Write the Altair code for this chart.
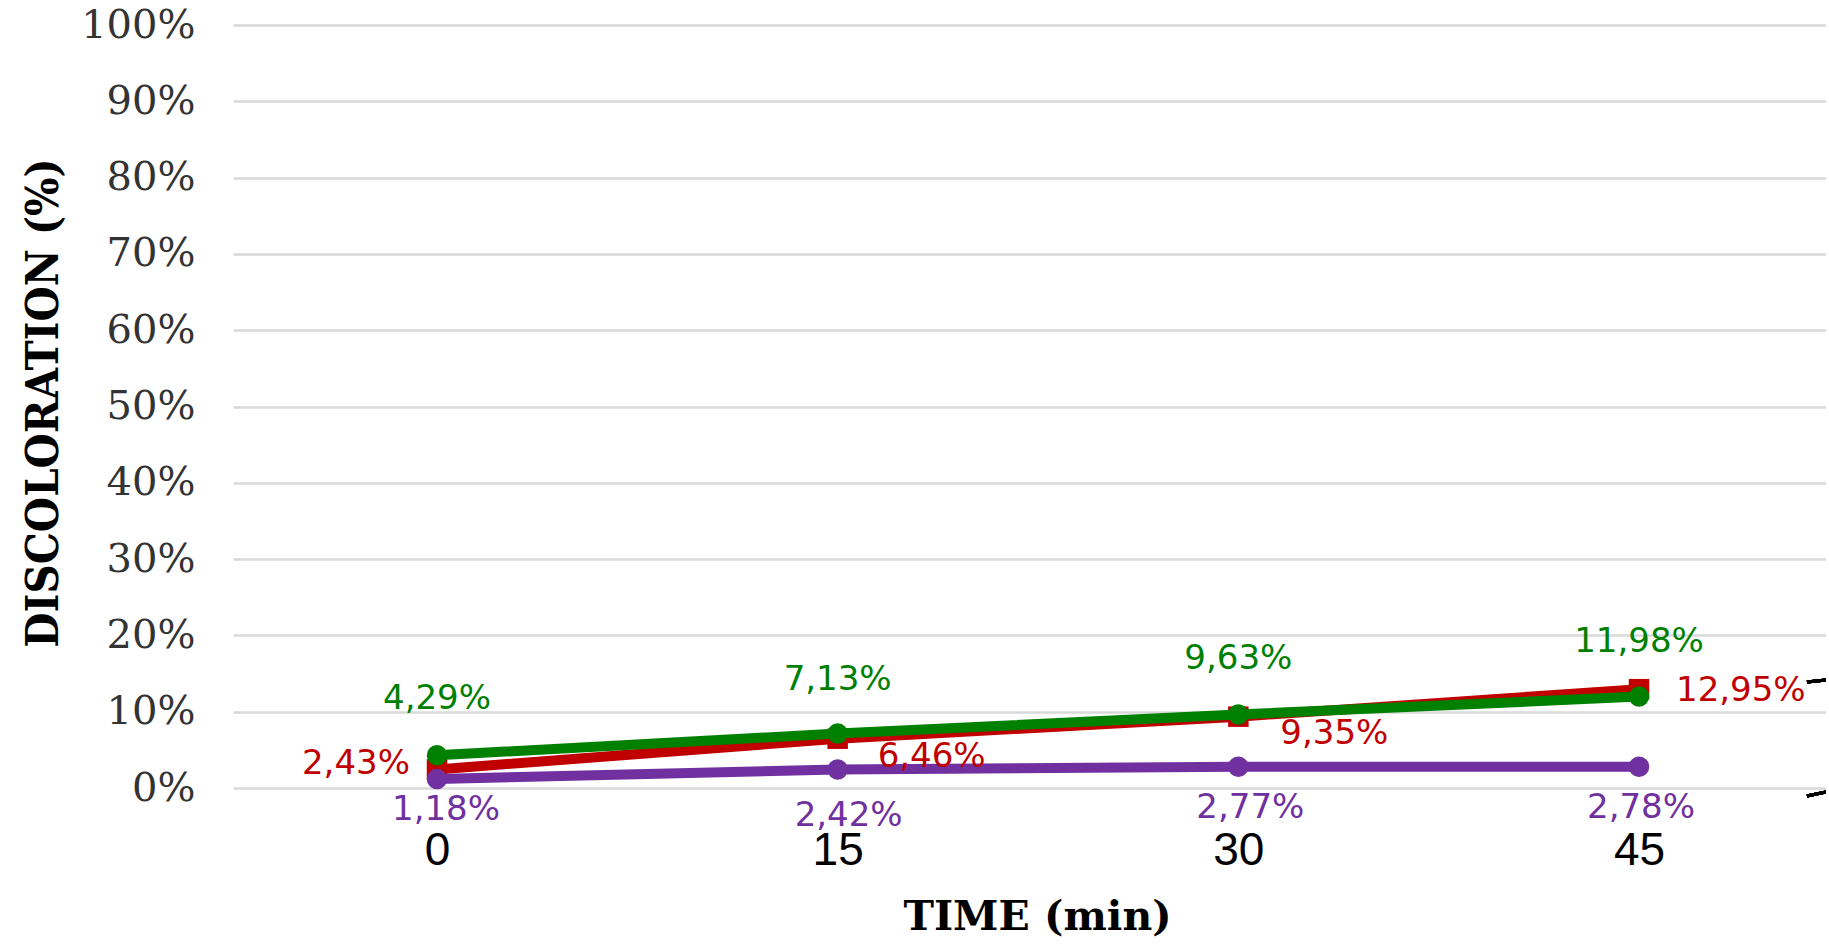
import altair as alt
import pandas as pd

# Sampling times (min)
times = [0, 15, 30, 45]

# Discoloration (%) for each series
red_values = [2.43, 6.46, 9.35, 12.95]
purple_values = [1.18, 2.42, 2.77, 2.78]
green_values = [4.29, 7.13, 9.63, 11.98]

y_ticks = [0, 0.1, 0.2, 0.3, 0.4, 0.5, 0.6, 0.7, 0.8, 0.9, 1.0]

# Series styling (drawing order: first is at the back)
series_style = {
    "red": {"values": red_values, "color": "#C00000", "shape": "square", "size": 420},
    "purple": {"values": purple_values, "color": "#7030A0", "shape": "circle", "size": 420},
    "green": {"values": green_values, "color": "#008000", "shape": "circle", "size": 420},
}

# Data-label placement relative to each point (pixels) and alignment
label_dx = {"red": [-27, 40, 42, 37], "purple": [9, 11, 12, 2], "green": [0, 0, 0, 0]}
label_dy = {"red": [-5, 18, 17, 2], "purple": [31, 46, 41, 41], "green": [-56, -54, -56, -55]}
label_align = {
    "red": ["right", "left", "left", "left"],
    "purple": ["center"] * 4,
    "green": ["center"] * 4,
}

rows = []
for name, st in series_style.items():
    for t, v in zip(times, st["values"]):
        rows.append({
            "t": t,
            "pct": v / 100.0,
            "series": name,
            "label": f"{v:.2f}".replace(".", ",") + "%",
        })
df = pd.DataFrame(rows)

W, H = 1593, 763

x_enc = alt.X(
    "t:Q",
    scale=alt.Scale(domain=[-7.637, 52.0], nice=False, zero=False),
    axis=alt.Axis(
        values=times,
        grid=False,
        domain=False,
        ticks=False,
        tickSize=0,
        labelFont="Liberation Sans Narrow, Liberation Sans",
        labelFontSize=46,
        labelColor="#000000",
        labelPadding=40,
        labelFlush=False,
        labelOverlap=False,
        title="TIME (min)",
        titleFont="DejaVu Serif",
        titleFontWeight="bold",
        titleFontSize=41,
        titleColor="#000000",
        titleX=804,
        titleY=129,
        titleAlign="center",
        titleBaseline="middle",
    ),
)
y_enc = alt.Y(
    "pct:Q",
    scale=alt.Scale(domain=[0, 1], nice=False),
    axis=alt.Axis(
        values=y_ticks,
        format=".0%",
        grid=True,
        gridColor="#D9D9D9",
        gridWidth=2.5,
        domain=False,
        ticks=False,
        tickSize=0,
        labelFont="DejaVu Serif",
        labelFontSize=40,
        labelColor="#333333",
        labelPadding=38,
        labelFlush=False,
        labelOverlap=False,
        title="DISCOLORATION (%)",
        titleFont="DejaVu Serif Condensed, DejaVu Serif",
        titleFontWeight="bold",
        titleFontSize=45,
        titleColor="#000000",
        titleAngle=270,
        titleX=-190,
        titleY=H / 2 - 4,
        titleAlign="center",
        titleBaseline="middle",
    ),
)

layers = []
for name, st in series_style.items():
    sub = alt.Chart(df).transform_filter(alt.datum.series == name)
    layers.append(
        sub.mark_line(color=st["color"], strokeWidth=10).encode(x=x_enc, y=y_enc)
    )
    layers.append(
        sub.mark_point(
            shape=st["shape"], filled=True, size=st["size"], color=st["color"], opacity=1
        ).encode(x=x_enc, y=y_enc)
    )

# One text layer per data label so each can sit on its own side of the point
for name, st in series_style.items():
    for i, t in enumerate(times):
        layers.append(
            alt.Chart(df)
            .transform_filter((alt.datum.series == name) & (alt.datum.t == t))
            .mark_text(
                align=label_align[name][i],
                baseline="middle",
                dx=label_dx[name][i],
                dy=label_dy[name][i],
                font="DejaVu Sans",
                fontSize=34,
                color=st["color"],
            )
            .encode(x=x_enc, y=y_enc, text="label:N")
        )

# Bracket ends at the right edge
bracket = [
    alt.Chart(df).mark_rule(color="#000000", strokeWidth=3).encode(
        x=alt.value(1574), x2=alt.value(W), y=alt.value(657), y2=alt.value(655)
    ),
    alt.Chart(df).mark_rule(color="#000000", strokeWidth=3).encode(
        x=alt.value(1574), x2=alt.value(W), y=alt.value(771), y2=alt.value(767)
    ),
]

chart = (
    alt.layer(*layers, *bracket)
    .properties(
        width=W,
        height=H,
        autosize=alt.AutoSizeParams(type="none"),
        padding={"left": 233, "top": 25, "right": 0, "bottom": 155},
        background="white",
    )
    .configure_view(stroke=None)
)

chart.save("out.html", embed_options={"renderer": "svg", "actions": False})
